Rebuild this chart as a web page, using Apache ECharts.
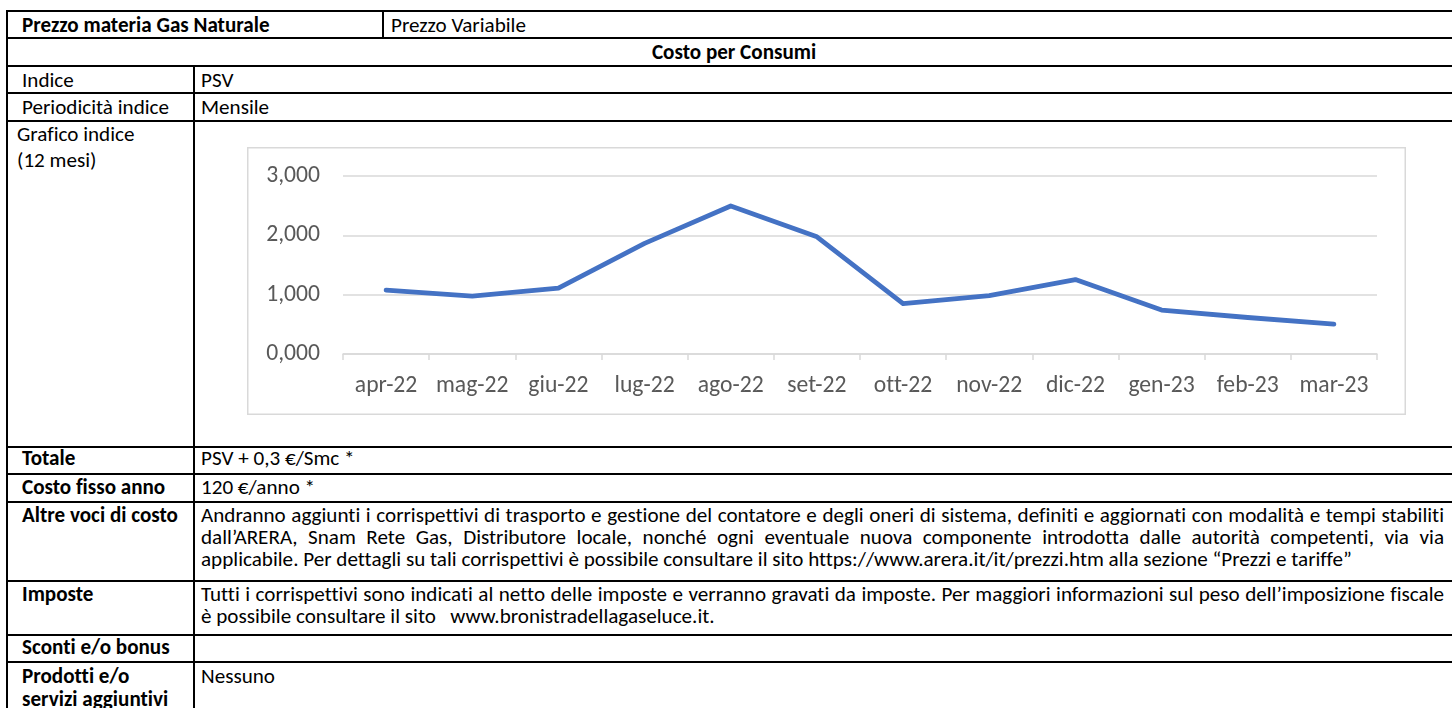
<!DOCTYPE html>
<html>
<head>
<meta charset="utf-8">
<script src="https://cdn.jsdelivr.net/npm/echarts@6/dist/echarts.min.js"></script>
<style>
html, body { margin: 0; padding: 0; background: #fff; }
body { width: 1452px; height: 708px; overflow: hidden; position: relative;
       font-family: Carlito, Calibri, Lato, sans-serif; color: #000; font-size: 20px;
       font-variant-ligatures: none; font-feature-settings: "liga" 0; }
.hl { position: absolute; left: 6px; width: 1460px; height: 2px; background: #000; }
.vl { position: absolute; width: 2px; background: #000; }
.t { position: absolute; white-space: pre; line-height: 22px; height: 22px; }
.b { font-weight: bold; }
.j { white-space: normal; width: 1243px; text-align: justify; text-align-last: justify; }
#chart { position: absolute; left: 247px; top: 147px; width: 1159px; height: 268px; }
</style>
</head>
<body>
<!-- righe orizzontali della tabella -->
<div class="hl" style="top:10px"></div>
<div class="hl" style="top:37px"></div>
<div class="hl" style="top:65px"></div>
<div class="hl" style="top:92px"></div>
<div class="hl" style="top:120px"></div>
<div class="hl" style="top:446px"></div>
<div class="hl" style="top:473px"></div>
<div class="hl" style="top:501px"></div>
<div class="hl" style="top:580px"></div>
<div class="hl" style="top:634px"></div>
<div class="hl" style="top:661px"></div>
<!-- righe verticali -->
<div class="vl" style="left:6px; top:10px; height:698px"></div>
<div class="vl" style="left:382px; top:10px; height:29px"></div>
<div class="vl" style="left:193px; top:65px; height:643px"></div>

<div class="t b" style="left:22px; top:14px">Prezzo materia Gas Naturale</div>
<div class="t" style="left:391px; top:14px">Prezzo Variabile</div>
<div class="t b" style="left:8px; width:1452px; text-align:center; top:41px">Costo per Consumi</div>
<div class="t" style="left:22px; top:69px">Indice</div>
<div class="t" style="left:201px; top:69px">PSV</div>
<div class="t" style="left:22px; top:96px">Periodicità indice</div>
<div class="t" style="left:201px; top:96px">Mensile</div>
<div class="t" style="left:17px; top:123px">Grafico indice</div>
<div class="t" style="left:17px; top:149px">(12 mesi)</div>
<div id="chart"></div>
<div class="t b" style="left:22px; top:447px">Totale</div>
<div class="t" style="left:201px; top:447px">PSV + 0,3 €/Smc *</div>
<div class="t b" style="left:22px; top:476px">Costo fisso anno</div>
<div class="t" style="left:201px; top:476px">120 €/anno *</div>
<div class="t b" style="left:22px; top:504px">Altre voci di costo</div>
<div class="t j" style="left:201px; top:504px">Andranno aggiunti i corrispettivi di trasporto e gestione del contatore e degli oneri di sistema, definiti e aggiornati con modalità e tempi stabiliti</div>
<div class="t j" style="left:201px; top:526px">dall’ARERA, Snam Rete Gas, Distributore locale, nonché ogni eventuale nuova componente introdotta dalle autorità competenti, via via</div>
<div class="t" style="left:201px; top:548px">applicabile. Per dettagli su tali corrispettivi è possibile consultare il sito https://www.arera.it/it/prezzi.htm alla sezione “Prezzi e tariffe”</div>
<div class="t b" style="left:22px; top:583px">Imposte</div>
<div class="t j" style="left:201px; top:583px">Tutti i corrispettivi sono indicati al netto delle imposte e verranno gravati da imposte. Per maggiori informazioni sul peso dell’imposizione fiscale</div>
<div class="t" style="left:201px; top:605px">è possibile consultare il sito   www.bronistradellagaseluce.it.</div>
<div class="t b" style="left:22px; top:636px">Sconti e/o bonus</div>
<div class="t b" style="left:22px; top:665px">Prodotti e/o</div>
<div class="t b" style="left:22px; top:688px">servizi aggiuntivi</div>
<div class="t" style="left:201px; top:665px">Nessuno</div>

<script>
var months = ['apr-22', 'mag-22', 'giu-22', 'lug-22', 'ago-22', 'set-22',
              'ott-22', 'nov-22', 'dic-22', 'gen-23', 'feb-23', 'mar-23'];
var psv = [1.075, 0.975, 1.110, 1.865, 2.495, 1.975, 0.850, 0.985, 1.255, 0.740, 0.615, 0.505];
var yMin = 0, yMax = 3, yStep = 1;

var fam = 'Carlito, Calibri, Lato, sans-serif';

// misura il testo per avvicinare le larghezze del Calibri originale
function measure(str, weight) {
    var ctx = document.createElement('canvas').getContext('2d');
    ctx.font = (weight || 'normal') + ' 100px ' + fam;
    return ctx.measureText(str).width / 100;
}
var bodySize = 147 / measure('Periodicità indice');
var axisSize = 69 / measure('mar-23');
document.body.style.fontSize = bodySize.toFixed(2) + 'px';

var myChart = echarts.init(document.getElementById('chart'));
myChart.setOption({
    animation: false,
    textStyle: { fontFamily: fam },
    graphic: [{
        type: 'rect',
        silent: true,
        shape: { x: 0.75, y: 0.75, width: 1157.5, height: 266.5 },
        style: { fill: 'none', stroke: '#d9d9d9', lineWidth: 1.5 }
    }],
    grid: { left: 96, right: 29, top: 29, bottom: 61 },
    xAxis: {
        type: 'category',
        data: months,
        boundaryGap: true,
        axisLine: { lineStyle: { color: '#d9d9d9', width: 1.5 } },
        axisTick: { show: true, length: 6, lineStyle: { color: '#d9d9d9', width: 1.5 } },
        axisLabel: { color: '#595959', fontSize: axisSize, fontFamily: fam,
                     margin: Math.round(32 - axisSize / 2), interval: 0 },
        splitLine: { show: false }
    },
    yAxis: {
        type: 'value',
        min: yMin,
        max: yMax,
        interval: yStep,
        axisLine: { show: false },
        axisTick: { show: false },
        axisLabel: {
            color: '#595959', fontSize: axisSize, fontFamily: fam, margin: 23,
            formatter: function (v) { return v.toFixed(3).replace('.', ','); }
        },
        splitLine: { lineStyle: { color: '#d9d9d9', width: 1.5 } }
    },
    series: [{
        name: 'PSV',
        type: 'line',
        data: psv,
        symbol: 'none',
        lineStyle: { color: '#4472C4', width: 4.8, cap: 'round', join: 'round' }
    }]
});
</script>
</body>
</html>
